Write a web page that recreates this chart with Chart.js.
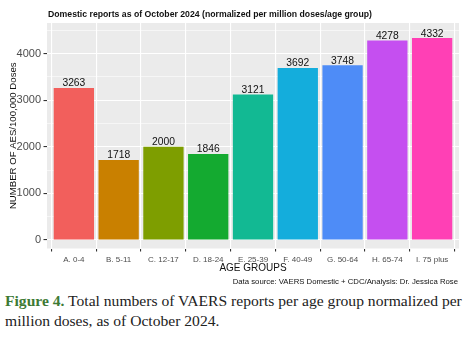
<!DOCTYPE html>
<html>
<head>
<meta charset="utf-8">
<script src="https://cdn.jsdelivr.net/npm/chart.js@4.4.1/dist/chart.umd.min.js"></script>
<style>
  html, body { margin: 0; padding: 0; background: #fff; }
  #wrap { position: relative; width: 468px; height: 338px; overflow: hidden; }
  #caption {
    position: absolute; left: 5px; top: 291px; width: 462px;
    font-family: "Liberation Serif", "DejaVu Serif", serif;
    font-size: 15.6px; line-height: 20px; color: #222;
  }
  #caption b { color: #3d7a35; }
</style>
</head>
<body>
<div id="wrap">
  <canvas id="chart" width="468" height="290"></canvas>
  <div id="caption"><b>Figure 4.</b> Total numbers of VAERS reports per age group normalized per million doses, as of October 2024.</div>
</div>
<script>
// ---- Data ----
const categories = ['A. 0-4', 'B. 5-11', 'C. 12-17', 'D. 18-24', 'E. 25-39', 'F. 40-49', 'G. 50-64', 'H. 65-74', 'I. 75 plus'];
const reports = [3263, 1718, 2000, 1846, 3121, 3692, 3748, 4278, 4332];
const barColors = ['#F25F5C', '#C98000', '#7E9E00', '#14AA30', '#12B993', '#14ADDC', '#4E8CF7', '#C54FF0', '#FF40B5'];
const yTicks = [0, 500, 1000, 1500, 2000, 2500, 3000, 3500, 4000, 4500];

const titleText = 'Domestic reports as of October 2024 (normalized per million doses/age group)';
const yTitle = 'NUMBER OF AES/100,000 Doses';
const xTitle = 'AGE GROUPS';
const sourceText = 'Data source: VAERS Domestic + CDC/Analysis: Dr. Jessica Rose';

const FONT = '"Liberation Sans", Arial, sans-serif';

// ---- Plugins ----
const panelBg = {
  id: 'panelBg',
  beforeDraw(chart) {
    const { ctx, chartArea: a } = chart;
    ctx.save();
    ctx.fillStyle = '#EBEBEB';
    ctx.fillRect(a.left, a.top, a.right - a.left, a.bottom - a.top);
    ctx.restore();
  }
};

const barLabels = {
  id: 'barLabels',
  afterDatasetsDraw(chart) {
    const { ctx } = chart;
    ctx.save();
    ctx.font = '10.3px ' + FONT;
    ctx.fillStyle = '#111';
    ctx.textAlign = 'center';
    ctx.textBaseline = 'alphabetic';
    chart.getDatasetMeta(0).data.forEach((bar, i) => {
      ctx.fillText(String(reports[i]), bar.x, bar.y - 1.5);
    });
    ctx.restore();
  }
};

const extraText = {
  id: 'extraText',
  afterDraw(chart) {
    const { ctx, chartArea: a } = chart;
    ctx.save();
    ctx.fillStyle = '#111';
    ctx.textBaseline = 'alphabetic';

    ctx.font = 'bold 8.7px ' + FONT;
    ctx.textAlign = 'left';
    ctx.fillText(titleText, 48, 17);

    ctx.font = '10px ' + FONT;
    ctx.textAlign = 'center';
    ctx.fillText(xTitle, (a.left + a.right) / 2, 271);

    ctx.font = '7.75px ' + FONT;
    ctx.textAlign = 'right';
    ctx.fillText(sourceText, 458, 283.5);

    ctx.translate(16, (a.top + a.bottom) / 2);
    ctx.rotate(-Math.PI / 2);
    ctx.font = '9.6px ' + FONT;
    ctx.textAlign = 'center';
    ctx.fillText(yTitle, 0, 0);
    ctx.restore();
  }
};

new Chart(document.getElementById('chart'), {
  type: 'bar',
  data: {
    datasets: [{
      data: reports.map((v, i) => ({ x: i, y: v })),
      backgroundColor: barColors,
      borderWidth: 0,
      barPercentage: 0.9,
      categoryPercentage: 1
    }]
  },
  options: {
    responsive: false,
    animation: false,
    layout: { padding: { top: 23, right: 9, left: 0, bottom: 0 } },
    plugins: {
      legend: { display: false },
      tooltip: { enabled: false }
    },
    scales: {
      x: {
        type: 'linear',
        min: -0.6,
        max: 8.6,
        offset: false,
        afterBuildTicks: s => { s.ticks = categories.map((c, i) => ({ value: i })); },
        afterFit: s => { s.height = 41.5; },
        border: { display: false },
        grid: { color: '#FFFFFF', lineWidth: 1.1, tickColor: '#333', tickLength: 3 },
        ticks: {
          autoSkip: false, maxRotation: 0, padding: 3.5,
          color: '#4D4D4D', font: { family: FONT, size: 8 },
          callback: v => categories[v]
        }
      },
      y: {
        min: -182,
        max: 4655,
        afterBuildTicks: s => { s.ticks = yTicks.map(v => ({ value: v })); },
        afterFit: s => { s.width = 47; },
        border: { display: false },
        grid: {
          color: '#FFFFFF',
          lineWidth: c => (c.tick && c.tick.value % 1000 === 0 ? 1.1 : 0.55),
          tickColor: c => (c.tick && c.tick.value % 1000 === 0 ? '#333' : 'rgba(0,0,0,0)'),
          tickLength: 3.5
        },
        ticks: {
          padding: 2.5,
          color: '#4D4D4D', font: { family: FONT, size: 11 },
          callback: v => (v % 1000 === 0 ? String(v) : '')
        }
      }
    }
  },
  plugins: [panelBg, barLabels, extraText]
});
</script>
</body>
</html>
